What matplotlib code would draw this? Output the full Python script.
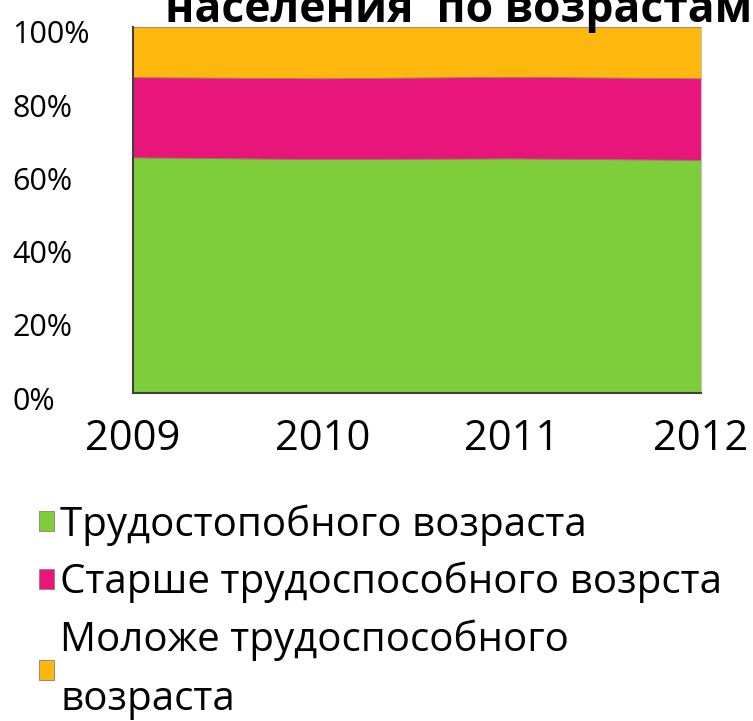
import numpy as np
import matplotlib.pyplot as plt
import matplotlib.transforms as mtransforms
from matplotlib.ticker import PercentFormatter

plt.rcParams['font.family'] = ['Open Sans', 'DejaVu Sans']

years = [2009, 2010, 2011, 2012]
working_age = [64.4, 63.9, 64.1, 63.7]
over_working = [21.9, 22.1, 22.3, 22.3]
under_working = [13.7, 14.0, 13.6, 14.0]

labels = ['Трудостопобного возраста',
          'Старше трудоспособного возрста',
          'Моложе трудоспособного\nвозраста']
colors = ['#7DCE3A', '#E8167A', '#FEB70C']

fig = plt.figure(figsize=(7.53, 7.21), dpi=100)
ax = fig.add_axes([0.1766, 0.4549, 0.7544, 0.5077])

polys = ax.stackplot(years, working_age, over_working, under_working,
                     colors=colors, labels=labels,
                     edgecolor='#9a7a6a', linewidth=0.6)

ax.set_xlim(years[0], years[-1])
ax.set_ylim(0, 100)
ax.set_xticks(years)
ax.set_yticks(np.arange(0, 101, 20))
ax.yaxis.set_major_formatter(PercentFormatter(decimals=0))
ax.tick_params(axis='both', length=0)
ax.tick_params(axis='x', labelsize=30, pad=18)
ax.tick_params(axis='y', labelsize=22, pad=87)
shift = mtransforms.ScaledTranslation(0, -5 / 100, fig.dpi_scale_trans)
for t in ax.get_yticklabels():
    t.set_horizontalalignment('left')
    t.set_transform(t.get_transform() + shift)

ax.spines['top'].set_visible(False)
ax.spines['right'].set_color('#c0c0c0')
ax.spines['left'].set_color('#404040')
ax.spines['bottom'].set_color('#404040')
ax.spines['left'].set_linewidth(1.5)
ax.spines['bottom'].set_linewidth(1.5)

# title is cut off at the top of the image
fig.text(165 / 753, 1 - 22 / 721, 'населения  по возрастам', ha='left', va='baseline',
         fontsize=32, fontweight='bold')

leg = fig.legend(handles=polys, labels=labels, loc='upper left',
                 bbox_to_anchor=(0.03, 1 - 488 / 721), frameon=False,
                 fontsize=29, handlelength=0.38, handleheight=0.38,
                 handletextpad=0.15, labelspacing=0.4, borderaxespad=0)
for t in leg.get_texts():
    t.set_linespacing(1.6)

plt.savefig('out.png', dpi=100)
plt.close()
